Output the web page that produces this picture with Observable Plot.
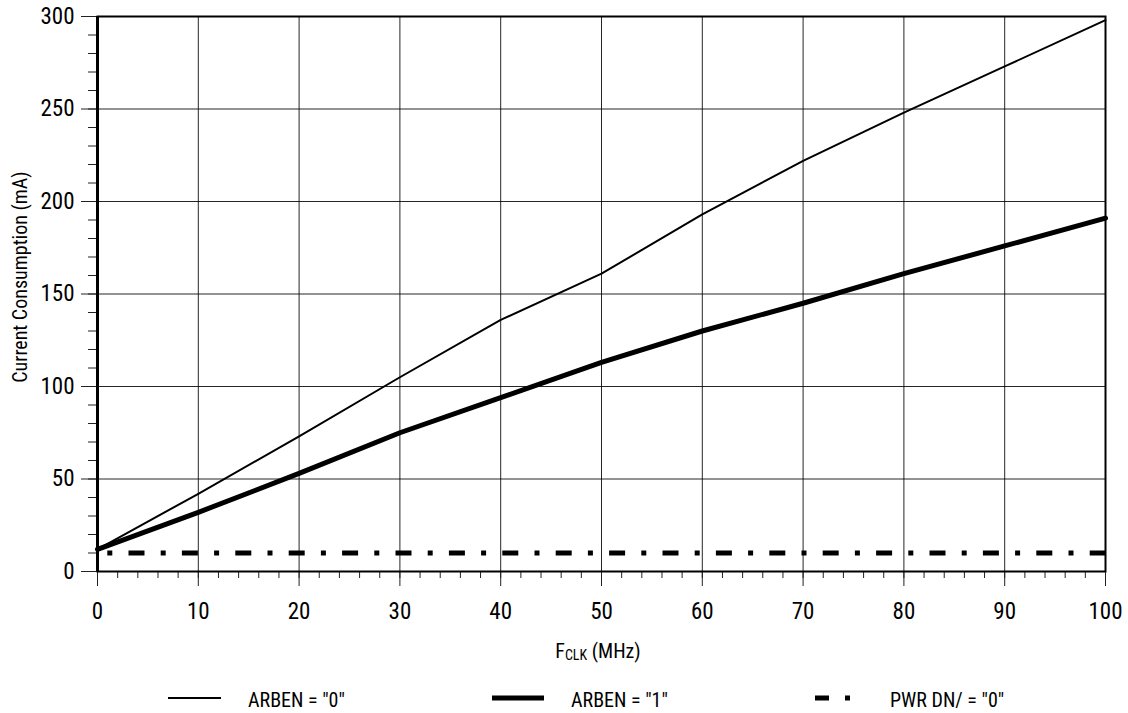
<!DOCTYPE html>
<html>
<head>
<meta charset="utf-8">
<script src="https://cdn.jsdelivr.net/npm/d3@7"></script>
<script src="https://cdn.jsdelivr.net/npm/@observablehq/plot@0.6"></script>
<style>
  html, body { margin: 0; padding: 0; background: #fff; }
  body, svg, text { font-family: "Liberation Sans Narrow", "Roboto Condensed", "DejaVu Sans Condensed", "DejaVu Sans", sans-serif; font-stretch: condensed; color: #000; }
  #wrap { position: relative; width: 1128px; height: 713px; overflow: hidden; }
  #xlabel { position: absolute; top: 641px; left: 598px; transform: translateX(-50%); font-size: 20px; line-height: 20px; white-space: nowrap; }
  #xlabel sub { font-size: 14px; vertical-align: baseline; position: relative; top: 2px; }
  #ylabel { position: absolute; left: 20px; top: 277px; transform: translate(-50%, -50%) rotate(-90deg); font-size: 20px; line-height: 20px; white-space: nowrap; }
  .leg-swatch { position: absolute; top: 688px; }
  .leg-text { position: absolute; top: 690px; font-size: 20px; line-height: 21px; white-space: nowrap; }
</style>
</head>
<body>
<div id="wrap"></div>
<script>
// ---- data ----
const freq = [0, 10, 20, 30, 40, 50, 60, 70, 80, 90, 100];           // F_CLK (MHz)
const arben0 = [12, 42, 73, 105, 136, 161, 193, 222, 248, 273, 298];  // ARBEN = "0" (mA)
const arben1 = [12, 32, 53, 75, 94, 113, 130, 145, 161, 176, 191];    // ARBEN = "1" (mA)
const pwrDn  = [10, 10, 10, 10, 10, 10, 10, 10, 10, 10, 10];          // PWR DN/ = "0" (mA)
const xMajorTicks = [0, 10, 20, 30, 40, 50, 60, 70, 80, 90, 100];
const yMajorTicks = [0, 50, 100, 150, 200, 250, 300];
const xMinorTicks = d3.range(0, 101, 2);
const yMinorTicks = d3.range(0, 301, 10);
const seriesNames = ['ARBEN = "0"', 'ARBEN = "1"', 'PWR DN/ = "0"'];
const yLabel = "Current Consumption (mA)";

const rows0 = freq.map((f, i) => ({f, v: arben0[i]}));
const rows1 = freq.map((f, i) => ({f, v: arben1[i]}));
const rowsP = freq.map((f, i) => ({f, v: pwrDn[i]}));

const dash = {strokeDasharray: "16,16.2,5,16.2", strokeDashoffset: 22.4};
const FONT = '"Liberation Sans Narrow", "Roboto Condensed", "DejaVu Sans Condensed", "DejaVu Sans", sans-serif';

const chart = Plot.plot({
  width: 1128,
  height: 630,
  marginLeft: 97,
  marginRight: 23,
  marginTop: 16,
  marginBottom: 59,
  style: {fontFamily: FONT, fontStretch: "condensed", fontSize: "23px", color: "#000", background: "#fff"},
  x: {domain: [0, 100], label: null},
  y: {domain: [0, 300], label: null},
  marks: [
    Plot.gridX(xMajorTicks, {stroke: "#000", strokeOpacity: 0.85, strokeWidth: 1}),
    Plot.gridY(yMajorTicks, {stroke: "#000", strokeOpacity: 0.85, strokeWidth: 1}),
    Plot.axisX(xMinorTicks, {tickSize: 7, tickFormat: () => "", stroke: "#222"}),
    Plot.axisX(xMajorTicks, {tickSize: 15, tickPadding: 16, fontSize: 23, stroke: "#222"}),
    Plot.axisY(yMinorTicks, {tickSize: 9, tickFormat: () => "", stroke: "#222"}),
    Plot.axisY(yMajorTicks, {tickSize: 16, tickPadding: 7, fontSize: 23, stroke: "#222"}),
    Plot.line(rowsP, {x: "f", y: "v", stroke: "#000", strokeWidth: 5, strokeLinecap: "butt", ...dash}),
    Plot.line(rows0, {x: "f", y: "v", stroke: "#000", strokeWidth: 2}),
    Plot.line(rows1, {x: "f", y: "v", stroke: "#000", strokeWidth: 5}),
    Plot.frame({stroke: "#000", strokeWidth: 2}),
    Plot.ruleX([0], {stroke: "#000", strokeWidth: 3})
  ]
});

const wrap = document.getElementById("wrap");
wrap.appendChild(chart);

// y-axis title
const yl = document.createElement("div");
yl.id = "ylabel";
yl.textContent = yLabel;
wrap.appendChild(yl);

// x-axis title with subscript
const xl = document.createElement("div");
xl.id = "xlabel";
xl.innerHTML = "F<sub>CLK</sub> (MHz)";
wrap.appendChild(xl);

// legend
const legendItems = [
  {name: seriesNames[0], sx: 168, sw: 53, tx: 248, width: 2, dasharray: null},
  {name: seriesNames[1], sx: 492, sw: 52, tx: 571, width: 5, dasharray: null},
  {name: seriesNames[2], sx: 815, sw: 35, tx: 890, width: 5, dasharray: "14,16,5,100"}
];
legendItems.forEach(it => {
  const svg = d3.create("svg").attr("class", "leg-swatch")
    .attr("width", it.sw).attr("height", 20)
    .style("left", it.sx + "px");
  const ln = svg.append("line").attr("x1", 0).attr("x2", it.sw).attr("y1", 10).attr("y2", 10)
    .attr("stroke", "#000").attr("stroke-width", it.width);
  if (it.dasharray) ln.attr("stroke-dasharray", it.dasharray);
  wrap.appendChild(svg.node());
  const t = document.createElement("div");
  t.className = "leg-text";
  t.style.left = it.tx + "px";
  t.textContent = it.name;
  wrap.appendChild(t);
});
</script>
</body>
</html>
